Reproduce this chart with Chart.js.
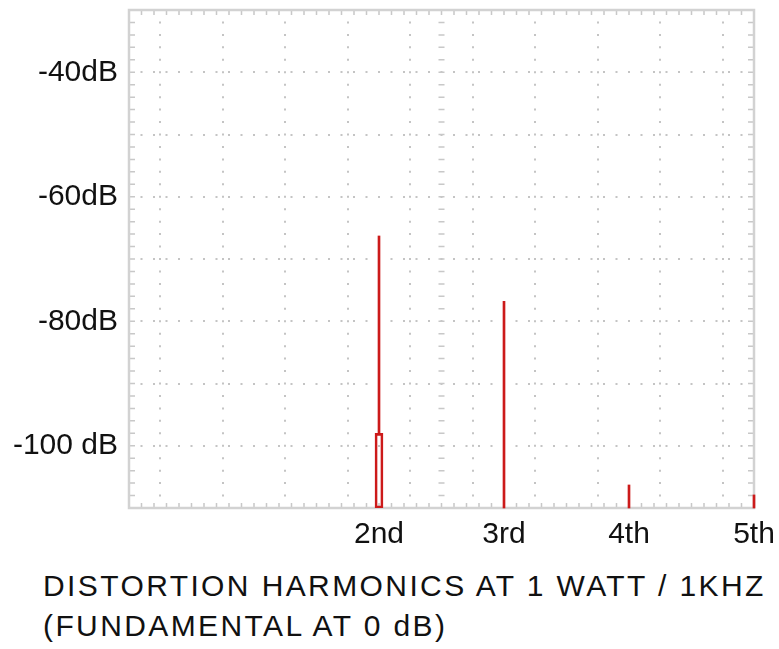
<!DOCTYPE html>
<html>
<head>
<meta charset="utf-8">
<script src="https://cdn.jsdelivr.net/npm/chart.js@4.4.1/dist/chart.umd.min.js"></script>
<style>
  html, body { margin: 0; padding: 0; background: #fff; }
  #wrap { position: relative; width: 779px; height: 649px; }
  #c { position: absolute; left: 0; top: 0; }
  #caption {
    position: absolute; left: 43px; top: 566px;
    font: 30px "Liberation Sans", Arial, sans-serif;
    line-height: 40px; letter-spacing: 2.4px; color: #111; white-space: nowrap;
  }
</style>
</head>
<body>
<div id="wrap">
  <canvas id="c" width="779" height="560"></canvas>
  <div id="caption">DISTORTION HARMONICS AT 1 WATT / 1KHZ<br>(FUNDAMENTAL AT 0 dB)</div>
</div>
<script>
// données
const harmonics = [2, 3, 4, 5];
const harmonicLabels = ['2nd', '3rd', '4th', '5th'];
const peakDb = [-66.3, -76.8, -106.3, -107.9];
const lineBaseDb = [-98, -110, -110, -110];
// petit rectangle au pied du 2nd
const boxX = [2];
const boxTopDb = [-98];
const yTickLabels = { '-40': '-40dB', '-60': '-60dB', '-80': '-80dB', '-100': '-100 dB' };

const Y_MIN = -110, Y_MAX = -30;
const X_MIN = 0, X_MAX = 5;
const SEAM_X = 2.5;
const RED = '#cc1a1a';
const GRID = '#c4c4c4';

// cadre + petites graduations le long des bords
const framePlugin = {
    id: 'frame',
    beforeDatasetsDraw(chart) {
        const { ctx, chartArea: a, scales: { x, y } } = chart;
        ctx.save();
        ctx.strokeStyle = '#c8c8c8';
        ctx.lineWidth = 1.5;
        ctx.beginPath();
        for (let i = 0; i <= 50; i++) {
            const px = x.getPixelForValue(X_MIN + i * 0.1);
            ctx.moveTo(px, a.top); ctx.lineTo(px, a.top + 5);
            ctx.moveTo(px, a.bottom); ctx.lineTo(px, a.bottom - 5);
        }
        const sx = x.getPixelForValue(SEAM_X);
        for (let i = 0; i <= 40; i++) {
            const py = y.getPixelForValue(Y_MIN + i * 2);
            ctx.moveTo(a.left, py); ctx.lineTo(a.left + 6, py);
            ctx.moveTo(a.right, py); ctx.lineTo(a.right - 6, py);
            ctx.moveTo(sx - 3, py); ctx.lineTo(sx + 3, py);
        }
        ctx.stroke();
        ctx.strokeStyle = '#d2d2d2';
        ctx.lineWidth = 2.5;
        ctx.strokeRect(a.left, a.top, a.right - a.left, a.bottom - a.top);
        ctx.restore();
    }
};

const ctx = document.getElementById('c').getContext('2d');
window.myChart = new Chart(ctx, {
    type: 'bar',
    data: {
        datasets: [{
            data: harmonics.map((h, i) => ({ x: h, y: [lineBaseDb[i], peakDb[i]] })),
            backgroundColor: RED,
            borderWidth: 0,
            barThickness: 2,
            grouped: false,
            clip: false
        }, {
            data: boxX.map((h, i) => ({ x: h, y: [Y_MIN, boxTopDb[i]] })),
            backgroundColor: 'rgba(0,0,0,0)',
            borderColor: RED,
            borderWidth: 2,
            borderSkipped: false,
            barThickness: 8,
            grouped: false
        }]
    },
    options: {
        responsive: false,
        animation: false,
        layout: { padding: { top: 10, right: 25, left: 0, bottom: 0 } },
        plugins: { legend: { display: false }, tooltip: { enabled: false } },
        scales: {
            x: {
                type: 'linear',
                min: X_MIN, max: X_MAX,
                offset: false,
                grid: { color: GRID, lineWidth: 2, drawTicks: false },
                border: { display: false, dash: [2, 10.45], dashOffset: 1 },
                ticks: {
                    stepSize: 0.5,
                    autoSkip: false,
                    maxRotation: 0,
                    padding: 9,
                    color: '#111',
                    font: { size: 30, family: "'Liberation Sans', Arial, sans-serif" },
                    callback: v => {
                        const i = harmonics.indexOf(v);
                        return i >= 0 ? harmonicLabels[i] : '';
                    }
                },
                afterFit: s => { s.height = 52; s.paddingLeft = 0; s.paddingRight = 0; }
            },
            y: {
                min: Y_MIN, max: Y_MAX,
                grid: { color: GRID, lineWidth: 2, drawTicks: false },
                border: { display: false, dash: [2, 10.5], dashOffset: 1 },
                ticks: {
                    stepSize: 10,
                    padding: 11,
                    color: '#111',
                    font: { size: 30, family: "'Liberation Sans', Arial, sans-serif" },
                    callback: v => yTickLabels[String(v)] || ''
                },
                afterFit: s => { s.width = 129; s.paddingTop = 0; s.paddingBottom = 0; }
            }
        }
    },
    plugins: [framePlugin]
});
</script>
</body>
</html>
